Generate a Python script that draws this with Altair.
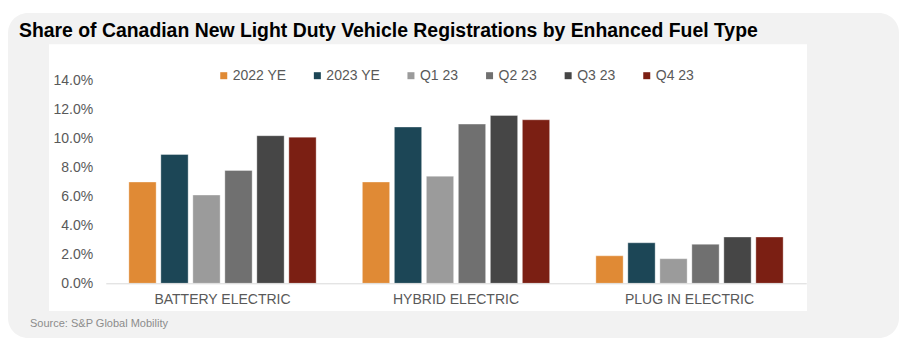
import altair as alt
import pandas as pd

TITLE = "Share of Canadian New Light Duty Vehicle Registrations by Enhanced Fuel Type"
SOURCE = "Source: S&P Global Mobility"
CATEGORIES = ["BATTERY ELECTRIC", "HYBRID ELECTRIC", "PLUG IN ELECTRIC"]
SERIES = ["2022 YE", "2023 YE", "Q1 23", "Q2 23", "Q3 23", "Q4 23"]
COLORS = ["#E08A35", "#1C4656", "#9B9B9B", "#707070", "#464646", "#7B1F13"]
BATTERY = [7.0, 8.9, 6.1, 7.8, 10.2, 10.1]
HYBRID = [7.0, 10.8, 7.4, 11.0, 11.6, 11.3]
PLUGIN = [1.9, 2.8, 1.7, 2.7, 3.2, 3.2]

rows = []
for cat, vals in zip(CATEGORIES, [BATTERY, HYBRID, PLUGIN]):
    for s, v in zip(SERIES, vals):
        rows.append({"category": cat, "series": s, "share": v / 100.0})
df = pd.DataFrame(rows)

W, H = 700.5, 202.6
FONT = "Liberation Sans"
GREY_TEXT = "#595959"

one = alt.Data(values=[{"k": 1}])

outer = alt.Chart(one).mark_rect(color="#F2F2F2", cornerRadius=20).encode(
    x=alt.value(-97.75), x2=alt.value(793.25),
    y=alt.value(-67.7), y2=alt.value(257.3),
)
inner = alt.Chart(one).mark_rect(color="#FFFFFF").encode(
    x=alt.value(-56.75), x2=alt.value(701.25),
    y=alt.value(-36.4), y2=alt.value(230.3),
)

bars = alt.Chart(df).mark_bar(stroke="white", strokeOpacity=0.35, strokeWidth=1).encode(
    x=alt.X("category:N", sort=CATEGORIES, title=None,
            scale=alt.Scale(paddingInner=0, paddingOuter=0),
            axis=alt.Axis(labelAngle=0, domain=True, domainColor="#D9D9D9",
                          ticks=False, tickSize=0, labelPadding=9, zindex=1,
                          labelFont=FONT, labelFontSize=14, labelColor=GREY_TEXT)),
    xOffset=alt.XOffset("series:N", sort=SERIES,
                        scale=alt.Scale(paddingInner=0.147, paddingOuter=0.722)),
    y=alt.Y("share:Q", title=None,
            scale=alt.Scale(domain=[0, 0.14], nice=False),
            axis=alt.Axis(format=".1%", values=[0, 0.02, 0.04, 0.06, 0.08, 0.10, 0.12, 0.14],
                          domain=False, ticks=False, tickSize=0, grid=False, labelPadding=13,
                          zindex=1, labelFont=FONT, labelFontSize=14, labelColor=GREY_TEXT)),
    color=alt.Color("series:N", sort=SERIES,
                    scale=alt.Scale(domain=SERIES, range=COLORS),
                    legend=alt.Legend(title=None, orient="none", legendX=111, legendY=-12,
                                      direction="horizontal", columns=6, columnPadding=23.6,
                                      symbolType="square", symbolSize=49, symbolStrokeWidth=0,
                                      labelOffset=2, labelFontSize=14, labelColor=GREY_TEXT,
                                      labelFont=FONT, padding=0, zindex=1)),
)

source = alt.Chart(alt.Data(values=[{"t": SOURCE}])).mark_text(
    align="left", baseline="alphabetic", font=FONT, fontSize=11, color="#8C8C8C"
).encode(x=alt.value(-75.75), y=alt.value(246.3), text="t:N")

chart = alt.layer(outer, inner, bars, source).properties(
    width=W, height=H,
    autosize=alt.AutoSizeParams(type="none"),
    padding={"left": 97.75, "top": 72.7, "right": 101.75, "bottom": 64.7},
    title=alt.TitleParams(TITLE, anchor="start", frame="group", dx=-86.75, dy=28,
                          font=FONT, fontSize=19.4, fontWeight="bold",
                          color="#000000", offset=0),
).configure_view(stroke=None).configure(background="#FFFFFF")

chart.save("out.html", embed_options={"renderer": "svg", "actions": False})
